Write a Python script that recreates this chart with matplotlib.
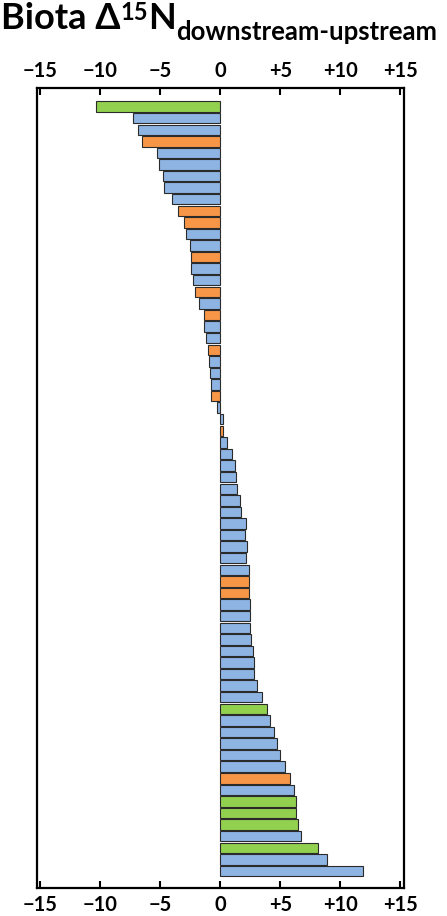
import matplotlib
matplotlib.use('Agg')
import matplotlib.pyplot as plt
import numpy as np

plt.rcParams['font.family'] = ['Lato', 'DejaVu Sans']

# bar values, top to bottom
values = [-10.3, -7.3, -6.85, -6.55, -5.27, -5.13, -4.74, -4.66, -4.04, -3.5,
          -2.98, -2.82, -2.5, -2.43, -2.4, -2.29, -2.06, -1.79, -1.37, -1.31,
          -1.17, -1.0, -0.95, -0.81, -0.73, -0.75, -0.28, 0.22, 0.2, 0.56,
          1.0, 1.26, 1.34, 1.42, 1.67, 1.76, 2.12, 2.09, 2.2, 2.18,
          2.4, 2.37, 2.4, 2.51, 2.51, 2.51, 2.59, 2.73, 2.79, 2.79,
          3.07, 3.51, 3.91, 4.13, 4.49, 4.69, 4.97, 5.38, 5.8, 6.14,
          6.33, 6.33, 6.5, 6.69, 8.17, 8.93, 11.91]
groups = ['g', 'b', 'b', 'o', 'b', 'b', 'b', 'b', 'b', 'o',
          'o', 'b', 'b', 'o', 'b', 'b', 'o', 'b', 'o', 'b',
          'b', 'o', 'b', 'b', 'b', 'o', 'b', 'b', 'o', 'b',
          'b', 'b', 'b', 'b', 'b', 'b', 'b', 'b', 'b', 'b',
          'b', 'o', 'o', 'b', 'b', 'b', 'b', 'b', 'b', 'b',
          'b', 'b', 'g', 'b', 'b', 'b', 'b', 'b', 'o', 'b',
          'g', 'g', 'g', 'b', 'g', 'b', 'b']
xticks = [-15, -10, -5, 0, 5, 10, 15]
xticklabels = ['\u221215', '\u221210', '\u22125', '0', '+5', '+10', '+15']

palette = {'g': '#92D050', 'b': '#8DB4E2', 'o': '#F79646'}

fig = plt.figure(figsize=(4.47, 9.16), dpi=100)
ax = fig.add_axes([0.0828, 0.0306, 0.821, 0.8733])

ypos = np.arange(len(values))
ax.barh(ypos, values, height=0.9, color=[palette[g] for g in groups],
        edgecolor='#2b2b2b', linewidth=0.8)

ax.set_xlim(-15.25, 15.3)
ax.set_ylim(len(values) - 1 + 1.47, -1.6)
ax.set_yticks([])
ax.set_xticks(xticks)
ax.set_xticklabels(xticklabels, fontsize=14.5, fontweight='bold')
ax.tick_params(axis='x', direction='in', length=5, width=1.5, pad=5,
               top=True, labeltop=True, bottom=True, labelbottom=True)
for s in ax.spines.values():
    s.set_linewidth(1.6)

# title built from pieces
fig.canvas.draw()
r = fig.canvas.get_renderer()
pieces = [('Biota \u0394', 26, 0.9683), ('15', 17, 0.9782), ('N', 26, 0.9683),
          ('downstream-upstream', 18.5, 0.9563)]
x = 0.002
for txt, size, yb in pieces:
    t = fig.text(x, yb, txt, fontsize=size, fontweight='bold', va='baseline',
                 ha='left')
    bb = t.get_window_extent(renderer=r)
    x += bb.width / fig.bbox.width

fig.savefig('out.png', dpi=100)
